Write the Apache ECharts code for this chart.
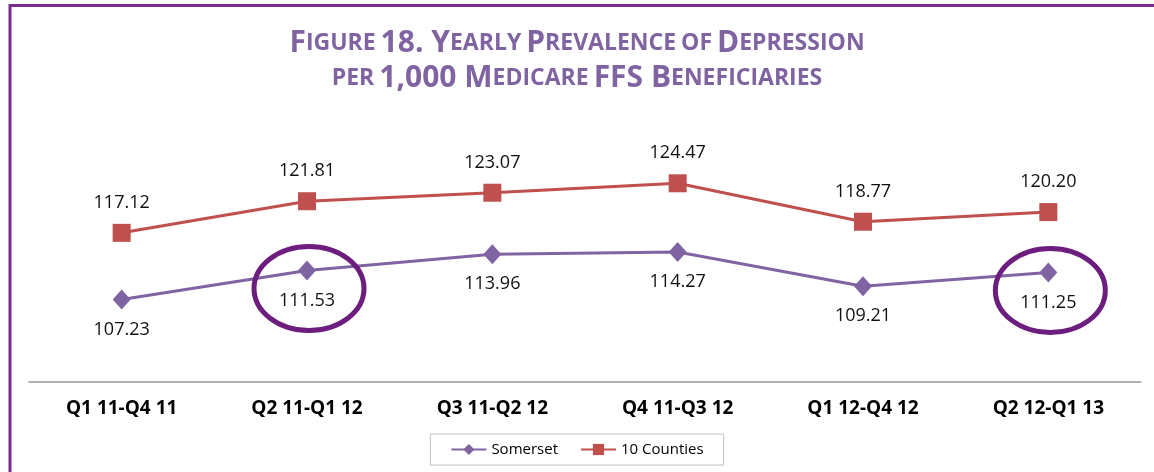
<!DOCTYPE html>
<html>
<head>
<meta charset="utf-8">
<script src="https://cdn.jsdelivr.net/npm/echarts@6/dist/echarts.min.js"></script>
<style>
  html, body { margin: 0; padding: 0; background: #fff; }
  #chart { width: 1154px; height: 472px; }
</style>
</head>
<body>
<div id="chart"></div>
<script>
// 数据
const categories = ['Q1 11-Q4 11', 'Q2 11-Q1 12', 'Q3 11-Q2 12', 'Q4 11-Q3 12', 'Q1 12-Q4 12', 'Q2 12-Q1 13']
const somerset = [107.23, 111.53, 113.96, 114.27, 109.21, 111.25]
const tenCounties = [117.12, 121.81, 123.07, 124.47, 118.77, 120.20]
const circledIndex = [1, 5] // Somerset points with a ring round them

const purple = '#8064a2'
const red = '#c0504d'
const ring = '#6c1d7e'
const font = 'Open Sans'

let myChart = echarts.init(document.getElementById('chart'))

// small caps title: {b|} big caps, {s|} small caps
const titleText =
  '{b|F}{s|IGURE} {b|18. Y}{s|EARLY} {b|P}{s|REVALENCE} {s|OF} {b|D}{s|EPRESSION}\n' +
  '{s|PER} {b|1,000 M}{s|EDICARE} {b|FFS B}{s|ENEFICIARIES}'

myChart.setOption({
  animation: false,
  title: {
    text: titleText,
    left: 'center',
    top: 21,
    textStyle: {
      rich: {
        b: { fontFamily: font, fontWeight: 'bold', fontSize: 30, color: purple, lineHeight: 35 },
        s: { fontFamily: font, fontWeight: 'bold', fontSize: 23, color: purple, lineHeight: 35 }
      }
    }
  },
  legend: {
    bottom: 7,
    left: 'center',
    itemWidth: 35,
    itemHeight: 14,
    itemGap: 22,
    padding: [8, 20, 8, 20],
    borderColor: '#c0c0c0',
    borderWidth: 1,
    textStyle: { fontFamily: font, fontSize: 15, color: '#000' },
    data: ['Somerset', '10 Counties']
  },
  grid: {
    left: 29,
    right: 13,
    top: 146,
    bottom: 90
  },
  xAxis: {
    type: 'category',
    data: categories,
    boundaryGap: true,
    axisLine: { lineStyle: { color: '#999', width: 1.5 } },
    axisTick: { show: false },
    axisLabel: {
      fontFamily: font,
      fontWeight: 'bold',
      fontSize: 19,
      color: '#000',
      margin: 17
    }
  },
  yAxis: {
    type: 'value',
    min: 95,
    max: 130,
    show: false,
    splitLine: { show: false }
  },
  series: [
    {
      name: 'Somerset',
      type: 'line',
      data: somerset,
      symbol: 'diamond',
      symbolSize: [18, 20],
      lineStyle: { color: purple, width: 3 },
      itemStyle: { color: purple },
      label: {
        show: true,
        position: 'bottom',
        distance: 11,
        fontFamily: font,
        fontSize: 18,
        color: '#111',
        formatter: p => p.value.toFixed(2)
      }
    },
    {
      name: '10 Counties',
      type: 'line',
      data: tenCounties,
      symbol: 'rect',
      symbolSize: 18,
      lineStyle: { color: red, width: 3 },
      itemStyle: { color: red },
      label: {
        show: true,
        position: 'top',
        distance: 12,
        fontFamily: font,
        fontSize: 18,
        color: '#111',
        formatter: p => p.value.toFixed(2)
      }
    }
  ]
})

// frame + rings round the circled points, placed from the chart's own scales
const rings = circledIndex.map(i => {
  const pt = myChart.convertToPixel({ seriesIndex: 0 }, [i, somerset[i]])
  return {
    type: 'ellipse',
    shape: { cx: pt[0] + 2, cy: pt[1] + 18, rx: 55, ry: 42 },
    style: { fill: 'none', stroke: ring, lineWidth: 5 },
    z: 10
  }
})

myChart.setOption({
  graphic: [
    { type: 'line', shape: { x1: 10, y1: 5.5, x2: 1154, y2: 5.5 }, style: { stroke: '#7b2a8e', lineWidth: 3 } },
    { type: 'line', shape: { x1: 10, y1: 4, x2: 10, y2: 472 }, style: { stroke: '#7b2a8e', lineWidth: 3 } }
  ].concat(rings)
})
</script>
</body>
</html>
